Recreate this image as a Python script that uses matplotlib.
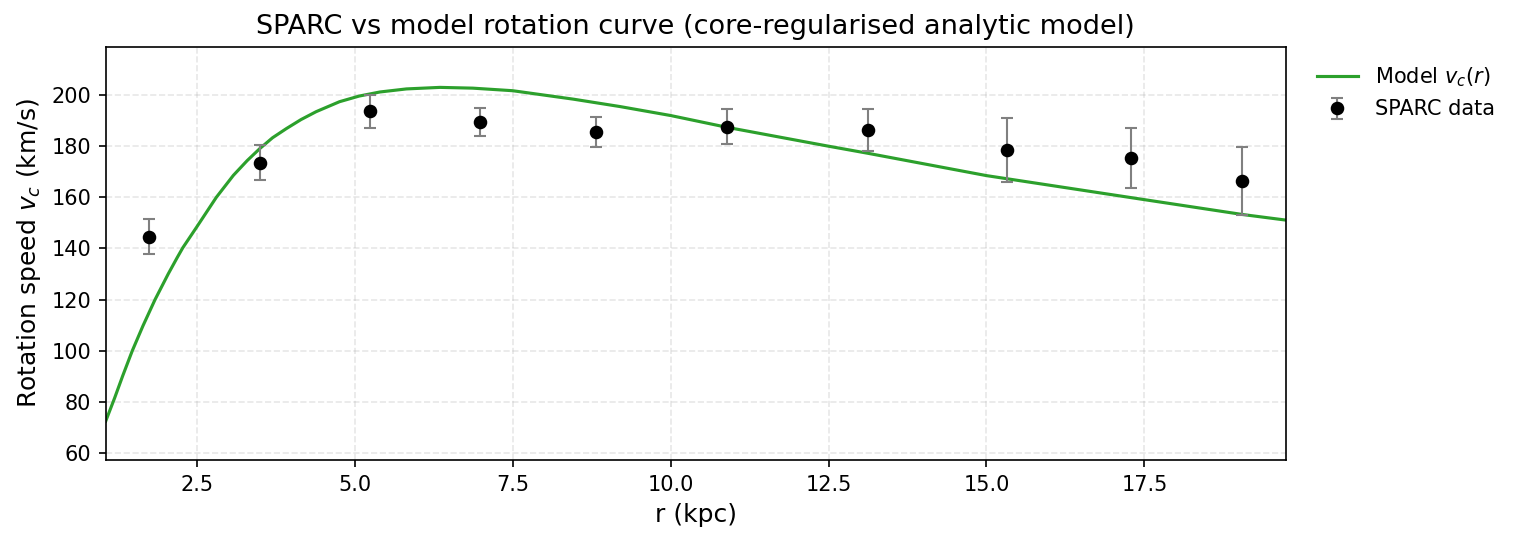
import numpy as np
import matplotlib
matplotlib.use('Agg')
import matplotlib.pyplot as plt

# SPARC data points
r_data = [1.75, 3.50, 5.24, 6.99, 8.82, 10.89, 13.13, 15.33, 17.29, 19.05]
v_data = [144.6, 173.6, 193.6, 189.6, 185.6, 187.7, 186.4, 178.6, 175.4, 166.4]
v_err = [6.9, 6.8, 6.4, 5.5, 5.9, 7.0, 8.2, 12.5, 11.6, 13.4]

# model curve
r_model = [1.06, 1.20, 1.33, 1.48, 1.65, 1.84, 2.05, 2.19, 2.28, 2.50, 2.81,
           3.08, 3.30, 3.50, 3.70, 3.92, 4.15, 4.39, 4.76, 5.07, 5.40,
           5.82, 6.35, 6.87, 7.50, 8.46, 9.20, 10.00, 10.89, 12.50, 13.13, 15.00,
           17.50, 19.05, 19.74]
v_model = [72.5, 81.5, 90.3, 100.0, 109.8, 120.0, 130.1, 136.4, 140.3, 148.4, 160.0,
           168.6, 174.4, 179.1, 183.3, 186.9, 190.4, 193.5, 197.4, 199.6, 201.2,
           202.4, 203.0, 202.7, 201.7, 198.4, 195.5, 192.0, 187.4, 180.0, 177.2, 168.5,
           159.1, 153.3, 151.1]

fig = plt.figure(figsize=(1517 / 150, 542 / 150), dpi=150)
ax = fig.add_axes([0.0697, 0.1513, 0.778, 0.7625])

ax.plot(r_model, v_model, color='tab:green', lw=1.5, label='Model $v_c(r)$')
ax.errorbar(r_data, v_data, yerr=v_err, fmt='o', color='black', ms=5.5,
            ecolor='gray', elinewidth=1, capsize=3, label='SPARC data')

ax.set_xlim(r_model[0], r_model[-1])
ax.set_ylim(57.3, 218.9)
ax.grid(True, ls='--', alpha=0.3)
ax.set_xlabel('r (kpc)', fontsize=12)
ax.set_ylabel('Rotation speed $v_c$ (km/s)', fontsize=12)
ax.set_title('SPARC vs model rotation curve (core-regularised analytic model)', fontsize=13)
ax.legend(loc='upper left', bbox_to_anchor=(1.01, 1.0), frameon=False, fontsize=10)

fig.savefig('out.png', dpi=150)
